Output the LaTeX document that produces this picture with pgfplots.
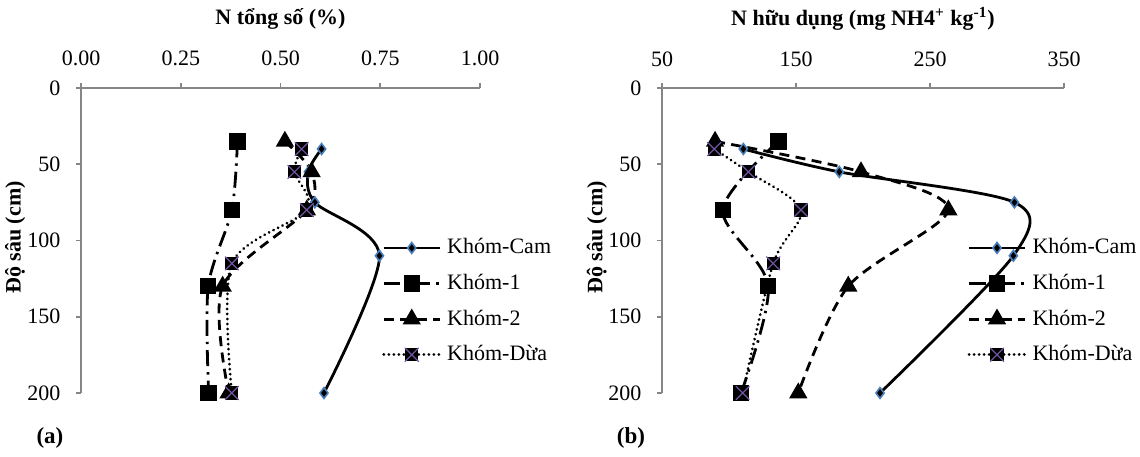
\documentclass[border=0pt]{standalone}
\usepackage{fontspec}
\setmainfont{Liberation Serif}
\usepackage{pgfplots}
\pgfplotsset{compat=1.18}
\definecolor{axgray}{RGB}{134,134,134}
\definecolor{dblue}{RGB}{74,126,187}
\definecolor{xpurple}{RGB}{112,84,160}
\pgfdeclareplotmark{sqx}{%
  \pgfpathrectangle{\pgfqpoint{-\pgfplotmarksize}{-\pgfplotmarksize}}{\pgfqpoint{2\pgfplotmarksize}{2\pgfplotmarksize}}%
  \pgfsetfillcolor{black}%
  \pgfusepath{fill}%
  \pgfsetstrokecolor{xpurple}%
  \pgfsetlinewidth{0.6pt}%
  \pgfpathmoveto{\pgfqpoint{-\pgfplotmarksize}{-\pgfplotmarksize}}%
  \pgfpathlineto{\pgfqpoint{\pgfplotmarksize}{\pgfplotmarksize}}%
  \pgfpathmoveto{\pgfqpoint{-\pgfplotmarksize}{\pgfplotmarksize}}%
  \pgfpathlineto{\pgfqpoint{\pgfplotmarksize}{-\pgfplotmarksize}}%
  \pgfusepath{stroke}%
}
\pgfplotsset{
  myax/.style={
    scale only axis, height=152.5pt, anchor=north west,
    axis x line*=top, axis y line*=left, y dir=reverse,
    ymin=0, ymax=200, ytick={0,50,100,150,200},
    axis line style={axgray, line width=0.8pt},
    tick style={axgray, line width=0.8pt}, tick align=outside, major tick length=2.5pt,
    /pgf/number format/assume math mode=true,
    tick label style={black, font=\fontsize{11}{13}\selectfont},
    xticklabel style={yshift=4.5pt},
    yticklabel style={xshift=-4pt},
    label style={font=\bfseries\fontsize{11}{13}\selectfont},
    title style={font=\bfseries\fontsize{11}{13}\selectfont, anchor=center, at={(axis description cs:0.5,1.233)}, yshift=-7pt},
    ylabel={Độ sâu (cm)},
    ylabel style={at={(axis description cs:-0.165,0.51)}, anchor=center},
    clip=false,
    legend cell align=left,
    legend style={draw=none, fill=none, font=\fontsize{11}{13}\selectfont,
      row sep=6.5pt, inner sep=0pt, nodes={inner sep=1pt},
      /tikz/every odd column/.append style={column sep=2pt}},
    legend image code/.code={\draw[mark repeat=2,mark phase=2] plot coordinates {(0pt,0pt) (14pt,0pt) (28pt,0pt)};},
  },
  cam/.style={black, line width=1.4pt, smooth, mark=diamond*, mark size=2.7pt, mark options={solid, fill=black, draw=dblue, line width=0.8pt}},
  kone/.style={black, line width=1.4pt, smooth, dash pattern=on 8pt off 3pt on 1.2pt off 3pt, mark=square*, mark size=3.4pt, mark options={solid, fill=black}},
  ktwo/.style={black, line width=1.4pt, smooth, dash pattern=on 5pt off 3.2pt, mark=triangle*, mark size=3.9pt, mark options={solid, fill=black}},
  kdua/.style={black, line width=1.5pt, smooth, line cap=round, dash pattern=on 0.01pt off 2.5pt, mark=sqx, mark size=3.3pt, mark options={solid}},
}
\begin{document}
\fontsize{11}{13}\selectfont
\begin{tikzpicture}
\useasboundingbox (0,0) rectangle (570pt,-228pt);
\begin{axis}[myax, at={(40.5pt,-44pt)}, width=199.5pt,
  xmin=0, xmax=1, xtick={0,0.25,0.5,0.75,1},
  xticklabel style={/pgf/number format/.cd, fixed, fixed zerofill, precision=2},
  title={N tổng số (\%)},
  legend style={at={(axis description cs:0.754,0.514)}, anchor=north west}]
\addplot[cam] coordinates {(0.603,40) (0.57,55) (0.586,75) (0.748,110) (0.609,200)};
\addplot[kone] coordinates {(0.392,35) (0.378,80) (0.319,130) (0.32,200)};
\addplot[ktwo] coordinates {(0.511,35) (0.578,55) (0.566,80) (0.355,130) (0.37,200)};
\addplot[kdua] coordinates {(0.553,40) (0.535,55) (0.566,80) (0.378,115) (0.378,200)};
\legend{Khóm-Cam, Khóm-1, Khóm-2, Khóm-Dừa}
\end{axis}
\begin{axis}[myax, at={(331pt,-44pt)}, width=201pt,
  xmin=50, xmax=350, xtick={50,150,250,350},
  title={N hữu dụng (mg NH4\textsuperscript{+} kg\textsuperscript{-1})},
  ylabel style={at={(axis description cs:-0.162,0.51)}},
  legend style={at={(axis description cs:0.759,0.514)}, anchor=north west}]
\addplot[cam] coordinates {(110.7,40) (182.3,55) (313,75) (312.2,110) (212.7,200)};
\addplot[kone] coordinates {(136.8,35) (95.3,80) (129.3,130) (109,200)};
\addplot[ktwo] coordinates {(89.6,35) (198.5,55) (263.7,80) (189,130) (151.7,200)};
\addplot[kdua] coordinates {(89,40) (114.4,55) (153.7,80) (133,115) (110.2,200)};
\legend{Khóm-Cam, Khóm-1, Khóm-2, Khóm-Dừa}
\end{axis}
\node[font=\bfseries\fontsize{11.5}{13}\selectfont] at (25pt,-219pt) {(a)};
\node[font=\bfseries\fontsize{11.5}{13}\selectfont] at (315.5pt,-219pt) {(b)};
\end{tikzpicture}
\end{document}
